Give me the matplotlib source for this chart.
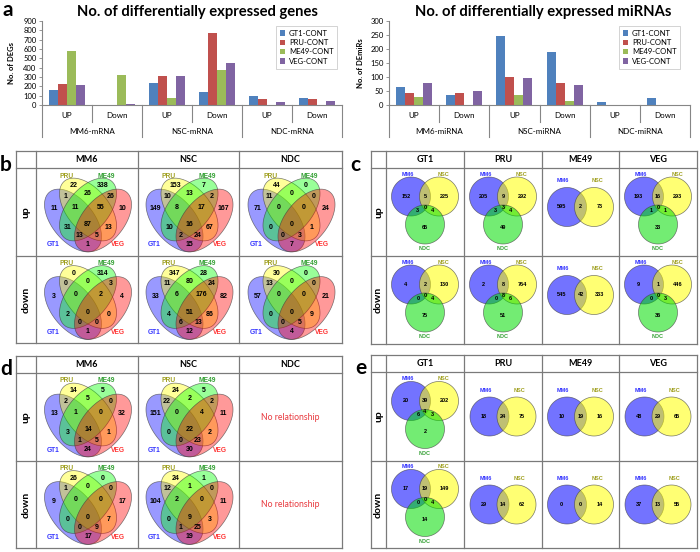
import numpy as np
import matplotlib.pyplot as plt
from matplotlib.patches import Polygon
from matplotlib import transforms
from matplotlib.colors import to_rgba

plt.rcParams['font.family'] = ['Lato', 'DejaVu Sans']

# ---------------- panel a: bar charts ----------------
series = ["GT1-CONT", "PRU-CONT", "ME49-CONT", "VEG-CONT"]
directions = ["UP", "Down"]
deg_groups = ["MM6-mRNA", "NSC-mRNA", "NDC-mRNA"]
mir_groups = ["MM6-miRNA", "NSC-miRNA", "NDC-miRNA"]
# order: MM6 UP, MM6 Down, NSC UP, NSC Down, NDC UP, NDC Down
deg_gt1 = [160, 0, 236, 139, 96, 79]
deg_pru = [221, 0, 307, 771, 61, 61]
deg_me49 = [582, 321, 79, 375, 0, 0]
deg_veg = [210, 6, 311, 454, 36, 43]
mir_gt1 = [63, 35, 248, 189, 12, 24]
mir_pru = [44, 44, 99, 80, 0, 0]
mir_me49 = [30, 0, 35, 14, 0, 0]
mir_veg = [79, 49, 95, 70, 0, 0]
bar_colors = ["#4F81BD", "#C0504D", "#9BBB59", "#8064A2"]

# ---------------- panels b / d: 4-set venns ----------------
quad_names = ["GT1", "PRU", "ME49", "VEG"]
quad_regions = ["A", "B", "C", "D", "AB", "BC", "CD", "AC", "BD", "AD",
                "ABC", "BCD", "ACD", "ABD", "ABCD"]
b_cols = ["MM6", "NSC", "NDC"]
b_up_mm6 = [11, 22, 338, 10, 1, 26, 26, 31, 13, 1, 11, 55, 13, 5, 87]
b_up_nsc = [149, 153, 7, 167, 10, 13, 2, 10, 67, 15, 8, 17, 2, 24, 16]
b_up_ndc = [71, 44, 0, 24, 11, 0, 0, 0, 1, 7, 0, 0, 0, 3, 0]
b_down_mm6 = [3, 0, 314, 4, 0, 0, 3, 2, 0, 1, 0, 2, 0, 0, 0]
b_down_nsc = [33, 347, 28, 82, 11, 80, 24, 4, 86, 12, 6, 176, 6, 13, 51]
b_down_ndc = [57, 30, 0, 21, 13, 0, 0, 0, 9, 4, 0, 0, 0, 5, 0]
d_up_mm6 = [13, 14, 5, 32, 2, 5, 0, 3, 1, 24, 1, 0, 1, 5, 14]
d_up_nsc = [151, 24, 5, 11, 22, 2, 2, 0, 2, 30, 0, 4, 0, 23, 22]
d_down_mm6 = [9, 26, 0, 17, 1, 0, 0, 0, 7, 17, 0, 0, 0, 9, 0]
d_down_nsc = [104, 24, 1, 11, 12, 1, 0, 0, 3, 19, 2, 0, 1, 25, 9]

# ---------------- panels c / e: 3-set and 2-set venns ----------------
tri_names = ["MM6", "NSC", "NDC"]
tri_regions = ["M", "N", "D", "MN", "MD", "ND", "MND"]
bi_regions = ["M", "N", "MN"]
c_cols = ["GT1", "PRU", "ME49", "VEG"]
c_up_gt1 = [152, 225, 65, 5, 3, 4, 0]
c_up_pru = [205, 292, 49, 9, 3, 4, 3]
c_up_me49 = [595, 73, 2]
c_up_veg = [193, 293, 33, 16, 1, 1, 0]
c_down_gt1 = [4, 130, 75, 2, 0, 4, 0]
c_down_pru = [2, 764, 51, 8, 0, 6, 8]
c_down_me49 = [545, 333, 42]
c_down_veg = [9, 446, 36, 1, 0, 3, 0]
e_up_gt1 = [20, 202, 2, 39, 6, 3, 4]
e_up_pru = [18, 75, 24]
e_up_me49 = [10, 16, 19]
e_up_veg = [48, 65, 29]
e_down_gt1 = [17, 149, 14, 19, 0, 4, 0]
e_down_pru = [29, 62, 14]
e_down_me49 = [0, 14, 0]
e_down_veg = [37, 55, 13]

rows = ["up", "down"]

W, H = 700, 552
fig = plt.figure(figsize=(7, 5.52), dpi=100)
ov = fig.add_axes([0, 0, 1, 1])
ov.set_xlim(0, W)
ov.set_ylim(H, 0)
ov.axis('off')

GRAY = '#868686'


def fig_axes(x0, y0, x1, y1):
    return fig.add_axes([x0 / W, 1 - y1 / H, (x1 - x0) / W, (y1 - y0) / H])


def bar_chart(x0, x1, vals, groups, ymax, ystep, ylabel, ylab_x, title, tx, leg_x):
    ax = fig_axes(x0, 21, x1, 105)
    n = len(vals[0])
    x = np.arange(n)
    w = 0.18
    for i, (name, v) in enumerate(zip(series, vals)):
        ax.bar(x + (i - 1.5) * w, v, w, color=bar_colors[i], label=name, zorder=2)
    ax.set_xlim(-0.5, n - 0.5)
    ax.set_ylim(0, ymax)
    ax.set_yticks(np.arange(0, ymax + 1, ystep))
    ax.set_xticks([])
    for s in ['top', 'right']:
        ax.spines[s].set_visible(False)
    for s in ['left', 'bottom']:
        ax.spines[s].set_color(GRAY)
        ax.spines[s].set_linewidth(0.8)
    ax.tick_params(axis='y', length=2.5, width=0.6, color=GRAY, labelsize=5.5, pad=1.5)
    ax.set_ylabel(ylabel, fontsize=5.5, fontweight='bold')
    ax.yaxis.set_label_coords(ylab_x, 0.5)
    bl = transforms.blended_transform_factory(ax.transData, ov.transData)
    for k in range(n + 1):
        xb = k - 0.5
        y_end = 137 if k % 2 == 0 else 122
        ax.plot([xb, xb], [105, y_end], transform=bl, color=GRAY, lw=0.8, clip_on=False)
    for k in range(n):
        ax.text(k, 116, directions[k % 2], transform=bl, ha='center', va='center', fontsize=5.8)
    for g, name in enumerate(groups):
        ax.text(2 * g + 0.5, 131, name, transform=bl, ha='center', va='center', fontsize=5.8)
    leg = ax.legend(loc='upper left', bbox_to_anchor=(leg_x / W, 1 - 26 / H),
                    bbox_transform=fig.transFigure, fontsize=5.5, fancybox=False,
                    edgecolor='#bfbfbf', handlelength=0.7, handleheight=0.7,
                    borderpad=0.5, labelspacing=0.3, handletextpad=0.5, borderaxespad=0)
    leg.get_frame().set_linewidth(0.6)
    ov.text(tx, 12, title, ha='center', va='center', fontsize=10.6, fontweight='bold')
    return ax


bar_chart(42, 342, [deg_gt1, deg_pru, deg_me49, deg_veg], deg_groups, 900, 100,
          "No. of DEGs", -0.09, "No. of differentially expressed genes", 197, 276)
bar_chart(389, 690, [mir_gt1, mir_pru, mir_me49, mir_veg], mir_groups, 300, 50,
          "No. of DEmiRs", -0.083, "No. of differentially expressed miRNAs", 543, 619)

for letter, lx, ly in [("a", 8, 10), ("b", 6, 165), ("c", 355, 165), ("d", 6, 369), ("e", 361, 368)]:
    ov.text(lx, ly, letter, ha='center', va='center', fontsize=15, fontweight='bold')


# ---------------- venn geometry ----------------
def region_poles(inside_fn, keys, letters, hw=52, hh=48, step=0.4):
    gx = np.arange(-hw, hw, step)
    gy = np.arange(-hh, hh, step)
    X, Y = np.meshgrid(gx, gy)
    ins = inside_fn(X, Y)
    out = []
    for k in keys:
        m = np.ones_like(X, dtype=bool)
        for s, inside in zip(letters, ins):
            m &= inside if s in k else ~inside
        while True:
            e = m.copy()
            e[1:, :] &= m[:-1, :]
            e[:-1, :] &= m[1:, :]
            e[:, 1:] &= m[:, :-1]
            e[:, :-1] &= m[:, 1:]
            if not e.any():
                break
            m = e
        out.append((X[m].mean(), Y[m].mean()))
    return out


QA, QB = 0.35, 0.2
quad_ell = [((0.35, 0.47), -45), ((0.5, 0.57), -45), ((0.5, 0.57), 45), ((0.65, 0.47), 45)]
SX, SY = 100, 110
quad_colors = ['#0000ff', '#ffff00', '#00ff00', '#ff0000']
quad_lab_off = [(-35, 30), (-21, -39), (18, -39), (30, 30)]
quad_lab_col = ['#3333ff', '#a0a020', '#33a033', '#ff3333']


def quad_inside(X, Y):
    ux = 0.5 + X / SX
    uy = 0.52 - Y / SY
    res = []
    for (ex, ey), ang in quad_ell:
        t = np.radians(ang)
        dx, dy = ux - ex, uy - ey
        u = dx * np.cos(t) + dy * np.sin(t)
        v = -dx * np.sin(t) + dy * np.cos(t)
        res.append((u / QA) ** 2 + (v / QB) ** 2 <= 1)
    return res


quad_poles = region_poles(quad_inside, quad_regions, "ABCD")

TR = 19.5
tri_circ = [(-14, -15.5), (14, -15.5), (0, 12.5)]
tri_colors = ['#0000ff', '#ffff00', '#00dd00']
tri_lab_off = [(-17, -38), (19, -38), (0, 37)]
tri_lab_col = ['#3333ff', '#a0a020', '#33a033']
bi_circ = [(-13.5, 0), (13.5, 0)]
bi_lab_off = [(-17.5, -26), (16.5, -26)]


def circ_inside(circs):
    def f(X, Y):
        return [(X - cx) ** 2 + (Y - cy) ** 2 <= TR ** 2 for cx, cy in circs]
    return f


tri_poles = region_poles(circ_inside(tri_circ), tri_regions, "MND")
bi_poles = region_poles(circ_inside(bi_circ), bi_regions, "MN")

theta = np.linspace(0, 2 * np.pi, 240)


def draw_quad(cx, cy, counts):
    cy = cy + 3
    cx = cx + 1
    for ((ex, ey), ang), col in zip(quad_ell, quad_colors):
        t = np.radians(ang)
        u, v = QA * np.cos(theta), QB * np.sin(theta)
        x = ex + u * np.cos(t) - v * np.sin(t)
        y = ey + u * np.sin(t) + v * np.cos(t)
        pts = np.column_stack([cx + (x - 0.5) * SX, cy - (y - 0.52) * SY])
        ov.add_patch(Polygon(pts, closed=True, fc=to_rgba(col, 0.4),
                             ec=(0.25, 0.25, 0.25, 0.7), lw=0.5))
    for (dx, dy), n in zip(quad_poles, counts):
        ov.text(cx + dx, cy + dy, str(n), ha='center', va='center', fontsize=5,
                fontweight='bold', family='Liberation Sans')
    for name, (dx, dy), col in zip(quad_names, quad_lab_off, quad_lab_col):
        ov.text(cx + dx, cy + dy, name, ha='center', va='center', fontsize=4.8,
                fontweight='bold', family='Liberation Sans', color=col)


def draw_circles(cx, cy, counts, yshift):
    if len(counts) == 7:
        circs, poles, labs, names = tri_circ, tri_poles, tri_lab_off, tri_names
        yshift = 0
    else:
        circs, poles, labs, names = bi_circ, bi_poles, bi_lab_off, tri_names[:2]
    cy = cy + yshift
    for (dx, dy), col in zip(circs, tri_colors):
        pts = np.column_stack([cx + dx + TR * np.cos(theta), cy + dy + TR * np.sin(theta)])
        ov.add_patch(Polygon(pts, closed=True, fc=to_rgba(col, 0.55),
                             ec=(0.25, 0.25, 0.25, 0.7), lw=0.5))
    for (dx, dy), n in zip(poles, counts):
        ov.text(cx + dx, cy + dy, str(n), ha='center', va='center', fontsize=4,
                fontweight='bold', family='Liberation Sans')
    for name, (dx, dy), col in zip(names, labs, tri_lab_col):
        ov.text(cx + dx, cy + dy, name, ha='center', va='center', fontsize=4,
                fontweight='bold', family='Liberation Sans', color=col)


def draw_table(xc, yr, headers):
    lc = '#7a7a7a'
    for yv in yr:
        ov.plot([xc[0], xc[-1]], [yv, yv], color=lc, lw=0.9)
    for xv in xc:
        ov.plot([xv, xv], [yr[0], yr[-1]], color=lc, lw=0.9)
    for j, h in enumerate(headers):
        ov.text((xc[j + 1] + xc[j + 2]) / 2, (yr[0] + yr[1]) / 2, h, ha='center',
                va='center', fontsize=6.5, fontweight='bold')
    for r, lab in enumerate(rows):
        ov.text((xc[0] + xc[1]) / 2, (yr[r + 1] + yr[r + 2]) / 2, lab, ha='center',
                va='center', fontsize=7.5, fontweight='bold', rotation=90)


def cell_center(xc, yr, j, r):
    return (xc[j + 1] + xc[j + 2]) / 2, (yr[r + 1] + yr[r + 2]) / 2


L_COLS = [16, 36, 138, 239, 342]
R_COLS = [371, 386, 464, 542, 619, 697]
b_rows = [151, 168, 256, 343]
c_rows = [151, 168, 256, 344]
d_rows = [356, 373, 461, 548]
e_rows = [355, 372, 461, 548]

b_cells = [[b_up_mm6, b_up_nsc, b_up_ndc], [b_down_mm6, b_down_nsc, b_down_ndc]]
d_cells = [[d_up_mm6, d_up_nsc, None], [d_down_mm6, d_down_nsc, None]]
c_cells = [[c_up_gt1, c_up_pru, c_up_me49, c_up_veg],
           [c_down_gt1, c_down_pru, c_down_me49, c_down_veg]]
e_cells = [[e_up_gt1, e_up_pru, e_up_me49, e_up_veg],
           [e_down_gt1, e_down_pru, e_down_me49, e_down_veg]]

draw_table(L_COLS, b_rows, b_cols)
draw_table(L_COLS, d_rows, b_cols)
draw_table(R_COLS, c_rows, c_cols)
draw_table(R_COLS, e_rows, c_cols)

for cells, yr in [(b_cells, b_rows), (d_cells, d_rows)]:
    for r in range(2):
        for j in range(3):
            cx, cy = cell_center(L_COLS, yr, j, r)
            if cells[r][j] is None:
                ov.text(cx, cy, "No relationship", ha='center', va='center',
                        fontsize=6.2, color='#e8383d')
            else:
                draw_quad(cx, cy, cells[r][j])

for cells, yr, ysh in [(c_cells, c_rows, -5), (e_cells, e_rows, 0)]:
    for r in range(2):
        for j in range(4):
            cx, cy = cell_center(R_COLS, yr, j, r)
            draw_circles(cx, cy, cells[r][j], ysh)

fig.savefig("out.png", dpi=100)
